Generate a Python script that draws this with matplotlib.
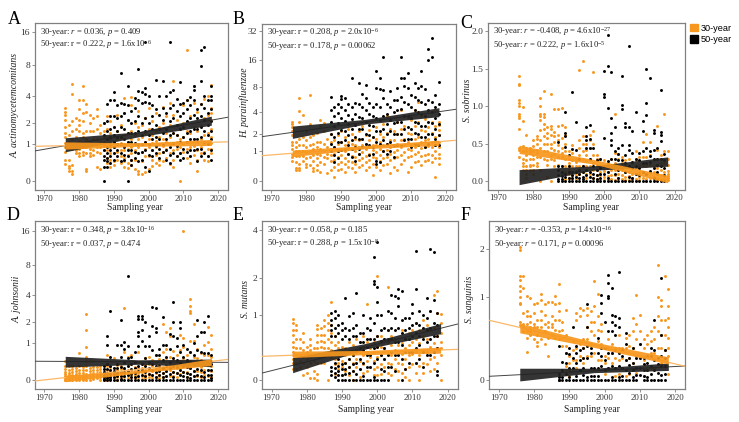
import numpy as np
import matplotlib
matplotlib.use("Agg")
import matplotlib.pyplot as plt
from matplotlib.patches import Patch

ORANGE = "#F7971D"
BLACK = "#1c1c1c"
GRAY = "#808080"

plt.rcParams["font.family"] = ["Liberation Serif", "DejaVu Serif"]
plt.rcParams["mathtext.fontset"] = "custom"
plt.rcParams["mathtext.rm"] = "Liberation Serif"
plt.rcParams["mathtext.it"] = "Liberation Serif:italic"

YEARS_30 = list(range(1976, 2019))
YEARS_50 = list(range(1987, 2019))
BAND_X = [1976, 1997, 2018]
LINE_X = [1967.3, 2022.8]

# one list of readings for each sampling year
A_30 = [[3.0,2.7,2.5,2.2,1.8,1.5,1.3,1.05,.9,.75,.5,.38],[1.9,1.4,1.1,.85,.5,.33,.28,.2],[5.3,4.2,2.1,1.6,1.2,.85,.35,.2,.15],
        [2.3,1.7,1.3,1.0,.8,.7],[3.6,2.9,2.2,1.9,1.6,1.1,.85,.7,.6],[5.0,3.6,2.6,2.1,1.5,1.3,.9,.75,.65],[3.3,2.7,1.6,1.2,.9,.7,.25,.2],
        [2.5,2.0,1.6,1.1,.85,.7,.6],[2.3,1.6,1.2,1.0,.8,.65],[2.9,2.4,1.7,1.2,.9,.75,.3],[1.9,1.5,1.1,.9,.7,.25],[2.0,1.6,1.3,1.1,.95,.8],
        [2.4,1.7,1.3,1.0,.8,.55,.4],[2.1,1.5,1.2,.9,.7,.5,.3],[1.8,1.4,1.1,.9,.7,.45,.35],[2.5,1.6,1.2,1.0,.75,.5],[1.9,1.3,1.05,.8,.6,.4],
        [3.8,2.6,1.4,1.0,.8,.55,.45,.3],[2.2,1.5,1.1,.85,.65,.4,.28],[3.9,3.2,1.6,1.2,.9,.7,.5,.35],[2.0,1.4,1.0,.8,.5,.25],[2.8,1.8,1.2,.9,.7,.2,.15],
        [1.9,1.3,1.0,.75,.45,.15],[2.3,1.5,1.1,.85,.6,.18],[3.0,1.7,1.2,.9,.6,.25],[2.1,1.4,1.05,.8,.5,.32],[2.6,1.6,1.15,.9,.65,.4],
        [1.8,1.3,1.0,.7,.5,.35],[3.1,2.0,1.2,.95,.75,.45],[2.4,1.5,1.1,.85,.55],[3.4,1.9,1.3,1.0,.7,.38],[5.6,2.5,1.5,1.05,.8,.5,.3],
        [2.2,1.4,1.1,.85,.6],[1.7,1.2,.9,.7,.0],[3.2,2.0,1.3,1.0,.75],[11.0,3.6,1.6,1.1,.85,.55],[2.4,1.5,1.1,.9,.6,.4],[5.0,3.4,1.8,1.2,.95,.65],
        [2.7,1.6,1.1,.8,.22,.5],[3.3,1.9,1.2,.9,.7],[3.7,2.3,1.4,1.0,.75,.5],[4.0,2.5,1.5,1.1,.85,.6,.45],[5.2,3.0,2.6,2.2,1.7,1.3,1.05,.85,.7]]
A_50 = [[2.0,1.4,1.0,.8,.6,.5,.3,.0],[3.3,2.1,1.6,1.2,.9,.7,.55,.45,.3],[3.6,2.4,1.7,1.3,1.0,.8,.6,.4],[4.4,3.6,2.4,1.8,1.4,1.1,.9,.7,.5],
        [3.2,2.3,1.6,1.3,1.0,.8,.6],[6.8,3.4,2.4,1.8,1.3,1.0,.7,.45],[3.3,2.6,1.7,1.2,.9,.65,.5],[5.0,3.2,2.2,1.5,1.1,.8,.6,.0],[2.8,2.0,1.5,1.1,.8,.5,.35],
        [3.8,3.0,2.1,1.5,1.05,.75,.55],[7.3,4.5,3.6,2.4,1.6,1.0,.7,.45],[4.4,3.4,2.0,1.4,1.0,.75,.5],[13.0,4.8,4.2,3.5,2.3,1.6,1.1,.8,.3],[4.0,3.4,2.0,1.4,1.0,.65,.2],
        [3.2,2.4,1.7,1.2,.8,.6],[5.8,2.9,1.9,1.3,.95,.7],[4.0,2.5,1.7,1.2,.85,.55],[5.7,3.0,2.2,1.5,1.0,.75],[4.0,2.6,1.7,1.2,.8,.5],[13.0,4.4,3.0,2.1,1.4,.9,.65,.4],
        [4.6,3.2,2.3,1.5,1.05,.7],[3.7,2.8,1.9,1.4,.95,.6],[5.5,3.3,2.4,1.7,1.1,.7,.5],[3.4,2.6,1.8,1.3,.85,.55],[3.6,2.9,2.1,1.5,1.1,.75],[3.9,3.2,2.3,1.6,1.2,.8,.6],
        [5.0,4.6,3.6,2.5,1.7,1.2,.8],[2.9,2.3,1.7,1.2,.85,.45],[11.0,7.9,5.7,3.3,2.4,1.8,1.3,.85,.6],[11.7,4.0,3.0,2.2,1.6,1.1,.7],[3.6,2.6,1.9,1.4,1.0,.6],
        [5.0,4.0,3.6,2.9,2.1,1.6,1.2,.8,.5],[]]

B_30 = [[3.0,2.8,2.5,2.2,1.9,1.5,1.3,1.1,.9,.75,.6],[1.5,1.2,1.0,.8,.55,.35,.3],[6.0,4.1,3.0,1.7,1.3,1.0,.8,.5,.35,.3],[3.7,1.8,1.3,1.0,.8,.6],
        [2.2,1.6,1.2,.95,.7,.5,.4],[6.5,2.8,1.8,1.3,1.0,.75,.45],[1.9,1.4,1.1,.85,.6,.35,.28],[2.1,1.5,1.2,.9,.7,.45,.3],[3.2,2.6,1.5,1.1,.85,.55,.25],
        [2.9,2.2,1.4,1.0,.75,.5],[1.7,1.2,.9,.7,.2],[2.0,1.5,1.1,.85,.6,.3],[2.6,1.6,1.2,.9,.65,.4,.1],[1.9,1.4,1.0,.75,.5,.3],[2.2,1.5,1.1,.85,.55,.32],
        [1.8,1.3,1.0,.7,.5,.25],[2.4,1.5,1.15,.9,.6,.4],[2.0,1.4,1.1,.8,.55,.35],[1.7,1.3,1.0,.75,.5,.25],[2.2,1.6,1.2,.9,.65,.4],[2.6,1.7,1.3,.95,.7,.45],
        [1.9,1.4,1.1,.8,.55,.3],[2.3,1.6,1.2,.9,.65,.4],[1.8,1.3,1.05,.75,.5,.15],[2.5,1.7,1.3,.95,.7,.4],[2.0,1.5,1.1,.85,.6,.3],[2.8,1.8,1.3,1.0,.7,.45],
        [3.6,2.1,1.4,1.05,.75,.5],[2.4,1.6,1.2,.9,.65,.2],[2.2,1.6,1.25,.95,.7,.4],[3.0,2.0,1.4,1.05,.75,.3],[4.3,2.4,1.6,1.2,.85,.5],[2.6,1.7,1.3,.95,.65],
        [3.4,2.1,1.5,1.1,.75,.25],[3.2,2.0,1.4,1.05,.8,.4],[4.2,2.6,1.7,1.2,.9,.55],[5.4,3.0,1.8,1.3,.95,.6],[3.6,2.3,1.5,1.15,.8,.45],[3.3,2.2,1.6,1.2,.85,.6],
        [4.0,2.5,1.7,1.25,.9,.65],[3.0,2.1,1.5,1.2,.85,.55],[4.2,2.6,1.8,1.3,1.0,.7,.1],[3.0,2.7,2.3,1.9,1.5,1.2,.9,.7,.5]]
B_50 = [[6.2,4.2,3.0,2.0,1.4,1.0],[4.7,3.6,2.6,1.8,1.2,.85,.55],[5.0,3.9,2.9,2.1,1.5,1.0,.7],[6.3,5.8,4.6,3.4,2.3,1.5,1.05],[6.0,4.2,3.1,2.2,1.6,1.1],
        [5.0,3.7,2.8,1.9,1.3,.9],[10.0,4.6,3.3,2.4,1.6,1.1,.75],[5.2,3.8,2.7,1.8,1.2,.6],[8.8,5.0,3.5,2.4,1.7,1.1,.9],[6.6,4.6,3.4,2.4,1.7,1.2],[8.4,6.0,4.2,3.0,2.0,1.4],
        [5.2,3.8,2.7,1.9,1.3,.85],[4.6,3.6,2.6,1.8,1.2,.9],[12.0,7.8,5.0,3.4,2.2,1.5,.6,.5],[10.0,7.6,4.6,3.2,2.2,1.4,.55],[17.0,7.4,6.0,3.6,2.4,1.6,1.0],[5.0,3.8,2.8,2.0,1.4,.9],
        [7.2,4.6,3.2,2.2,1.5,1.0],[5.6,4.0,2.9,2.0,1.3,.75],[7.8,5.6,4.2,3.0,2.0,1.3],[17.0,10.0,6.2,4.4,3.0,2.0,1.3],[10.0,8.2,5.4,3.6,2.4,1.6],[11.5,7.8,5.0,3.6,2.5,1.7],
        [6.4,4.6,3.4,2.4,1.7,1.2],[8.8,6.2,4.2,3.0,2.1,1.4],[7.8,5.6,4.0,2.9,2.0,1.3],[12.0,8.2,5.4,3.8,2.6,1.8],[7.6,5.0,3.6,2.6,1.8,1.2],[21.0,16.0,5.6,4.2,3.0,2.0,1.4],
        [27.0,17.0,5.4,4.0,2.9,2.0],[6.4,4.6,3.4,2.4,1.7,1.3],[9.2,5.0,3.8,2.8,1.9,1.3],[]]

C_30 = [[1.41,1.3,1.28,1.08,1.05,1.0,.9,.87,.84,.7,.44,.42,.32],[.99,.8,.47,.4,.3,.25,.2,.15],[.62,.45,.4,.35,.28,.2,.15,.1,.04],[.45,.42,.38,.3,.22,.2,.15],
        [.55,.47,.4,.35,.3,.22,.15,.1],[.6,.56,.5,.42,.38,.32,.25,.2],[1.11,1.0,.9,.87,.82,.68,.55,.45,.32,.15,.0],[1.2,.9,.86,.76,.7,.6,.5,.4,.3],[.72,.65,.58,.5,.4,.28,.22,.06],
        [1.17,.74,.7,.62,.5,.45,.35,.3,.0],[.97,.66,.6,.52,.42,.36,.28,.2],[.97,.74,.62,.55,.48,.4,.32,.22],[.98,.75,.58,.45,.38,.32,.2,.1],[.72,.62,.5,.4,.3,.2,.12,.03],
        [.4,.3,.25,.2,.15,.1,.04],[.48,.38,.28,.2,.12,.07,.03],[.3,.26,.2,.14,.08,.03],[1.48,.55,.45,.35,.3,.2,.1],[1.6,.6,.5,.4,.3,.2,.12],[.5,.42,.35,.27,.2,.1,.04],[.62,.55,.45,.3,.2,.1],
        [1.46,.67,.5,.35,.25,.15,.05],[.35,.3,.22,.15,.08,.03],[.3,.2,.13,.08,.03],[.28,.2,.14,.06,.02],[.24,.18,.12,.07,.02],[.3,.22,.15,.08,.03],[.9,.38,.25,.15,.08,.02],[.37,.3,.18,.1,.04],[.33,.25,.15,.08,.03],
        [.28,.2,.12,.06,.02],[.3,.2,.13,.07,.02],[.25,.18,.1,.05,.02],[.4,.28,.18,.1,.03],[.32,.22,.12,.06,.02],[.53,.33,.22,.12,.05],[.63,.33,.2,.1,.03,.0],[.52,.35,.22,.12,.05],[.28,.2,.12,.06,.02],
        [.74,.42,.3,.18,.1,.03],[.35,.25,.15,.08,.03],[.9,.4,.25,.12,.05],[.4,.3,.22,.14,.1,.07,.04,.02]]
C_50 = [[.52,.21,.15,.08,.03,.0],[.2,.13,.07,.03,.0],[.92,.64,.6,.46,.1,.06,.0],[.35,.2,.12,.05,.0],[1.19,.43,.13,.08,.04,.0],[.79,.42,.12,.06,.0],[.3,.15,.1,.05,.0],[.2,.12,.06,.03,.0],
        [.72,.6,.55,.45,.15,.08,.0],[.75,.57,.45,.3,.12,.06,.0],[.45,.2,.1,.05,.0],[.28,.15,.08,.03,.0],[.3,.18,.1,.05,.0],[1.47,1.17,1.13,.58,.2,.1,.0],[1.95,1.53,.98,.27,.12,.05,.0],[1.45,.85,.65,.55,.48,.3,.0],
        [.72,.4,.3,.2,.1,.0],[.45,.36,.28,.15,.05,.0],[1.41,1.02,.96,.48,.28,.18,.0],[.78,.72,.35,.25,.12,.0],[1.8,.72,.49,.42,.2,.06,.0],[.67,.38,.26,.18,.05,.0],[.93,.3,.2,.1,.0],[.38,.28,.18,.08,.0],
        [.8,.67,.4,.24,.12,.0],[1.5,1.04,.88,.44,.25,.1,.0],[1.37,.4,.34,.26,.14,.0],[.69,.64,.42,.3,.18,.05,.0],[.45,.3,.22,.12,.0],[1.22,.66,.62,.54,.3,.2,.0],[.36,.28,.18,.08,.0],[]]

D_30 = [[.42,.3,.22,.16,.12,.08,.04,.0,.0],[.3,.2,.14,.09,.04,.0],[.3,.22,.15,.1,.05,.0],[.25,.18,.12,.07,.02,.0],[.65,.3,.2,.13,.08,.03,.0],[.28,.2,.14,.08,.03,.0],[2.5,1.6,.85,.55,.42,.3,.2,.12,.06,.0],
        [.42,.26,.18,.12,.06,.0],[.42,.28,.2,.14,.08,.02],[.28,.2,.14,.08,.03],[.3,.22,.16,.1,.05,.0],[.22,.15,.1,.05,.0],[.6,.3,.2,.12,.06,.0],[.28,.2,.14,.08,.02],[.5,.24,.16,.1,.04],[.32,.2,.12,.06,.0],
        [.3,.22,.14,.08,.02],[2.9,.7,.38,.22,.12,.05],[.55,.32,.2,.1,.04],[.6,.34,.2,.12,.05],[.4,.28,.18,.1,.03],[.7,.4,.24,.14,.06],[.35,.25,.16,.08,.02],[.5,.32,.2,.1,.04],[.55,.35,.22,.12,.05],
        [.46,.3,.18,.1,.03],[.6,.4,.26,.14,.05],[.48,.32,.2,.1,.04],[1.9,.7,.42,.26,.14,.06],[1.5,.8,.5,.32,.18,.08],[1.7,1.3,.55,.34,.2,.08],[.72,.45,.28,.16,.07],[.6,.4,.26,.14,.05],[1.35,.75,.42,.25,.12],
        [16.0,1.2,.85,.5,.3,.16],[.6,.42,.28,.15,.06],[3.7,3.1,2.7,2.6,1.1,.7,.42,.24,.12],[1.9,1.1,.55,.34,.18,.08],[.8,.5,.32,.18,.08],[.65,.45,.28,.15,.05],[.95,.6,.38,.2,.1],[1.75,1.05,.6,.38,.2,.08],[1.35,.8,.55,.42,.3,.18,.06]]
D_50 = [[.3,.22,.15,.1,.05,.02,.0],[1.3,.95,.35,.22,.14,.08,.03,.0],[2.7,.55,.3,.2,.12,.06,.02,.0],[.25,.18,.12,.06,.0],[.95,.35,.24,.14,.07,.0],[2.1,.95,.55,.28,.16,.08,.02,.0],[1.05,.8,.4,.26,.15,.08,.0],
        [6.2,.9,.5,.3,.18,.1,.0],[.55,.35,.22,.12,.05,.0],[.7,.4,.25,.14,.06,.0],[2.4,2.2,1.5,1.3,.9,.3,.18,.08,.0],[2.4,2.2,1.6,1.1,.35,.2,.1,.0],[2.0,.9,.5,.3,.16,.08,.0],[1.3,.9,.4,.24,.12,.0],
        [3.0,1.8,.75,.35,.2,.1,.0],[2.9,1.7,1.5,.6,.3,.16,.06,.0],[.8,.6,.3,.18,.1,.0],[2.3,.95,.45,.26,.14,.05,.0],[.95,.55,.3,.18,.08,.0],[1.4,.8,.4,.24,.12,.0],[3.4,2.0,1.3,.5,.3,.16,.06,.0],[1.2,.9,.45,.28,.14,.0],
        [2.0,1.7,.7,.38,.2,.1,.0],[.95,.55,.3,.16,.08,.0],[.8,.45,.28,.14,.05,.0],[.7,.4,.24,.12,.04,.0],[1.0,.6,.32,.18,.08,.0],[2.1,1.3,.75,.4,.22,.1,.0],[1.5,.7,.36,.2,.08,.0],[2.0,1.5,.65,.34,.16,.05,.0],[2.4,.65,.38,.2,.1,.0],[.6,.36,.2,.1,.03,.0]]

E_30 = [[.92,.85,.7,.62,.5,.42,.35,.3,.25,.2,.12],[.8,.7,.55,.4,.3,.2,.12],[.55,.4,.3,.22,.15],[.65,.5,.38,.28,.2,.05],[.42,.35,.25,.15,.08],[.55,.45,.38,.28,.2,.02],[.4,.3,.22,.1,.02],
        [.8,.72,.62,.5,.4,.3,.2,.06,.0],[.75,.62,.52,.42,.3,.2],[.9,.78,.62,.5,.4,.3,.2],[1.0,.85,.7,.55,.4,.3,.0],[1.3,.8,.65,.5,.38,.28],[.6,.45,.35,.25,.18,.06],[.5,.4,.3,.2,.12],[.42,.3,.22,.15,.05],[.4,.3,.2,.1],
        [.5,.35,.25,.15,.05],[.45,.3,.2,.1,.0],[.55,.38,.25,.15],[.5,.35,.22,.12,.03],[.6,.42,.3,.18,.08],[1.25,.5,.35,.22,.1],[.55,.4,.28,.15],[.5,.35,.22,.12,.05],[2.05,.6,.42,.28,.15,.05],[.6,.42,.3,.18,.06],[.55,.4,.25,.15],
        [1.7,.7,.5,.32,.2,.08],[.6,.45,.3,.18,.05],[.55,.38,.25,.12],[.45,.32,.2,.1,.0],[.7,.48,.32,.18,.08],[.55,.4,.25,.12,.03],[.65,.45,.3,.15,.0],[.7,.5,.32,.18],[.85,.55,.35,.2,.08],[.7,.48,.3,.16,.0],[.9,.6,.38,.2,.08],
        [.8,.55,.35,.18],[1.1,.7,.42,.25,.1],[1.5,.75,.48,.28,.12],[1.6,1.05,.6,.4,.2],[1.02,.85,.65,.5,.4,.3,.0]]
E_50 = [[1.05,.9,.8,.7,.6,.15,.1,.05],[1.1,.95,.75,.6,.2,.14,.08,.03],[1.0,.8,.65,.25,.16,.1,.05,.0],[.85,.7,.55,.18,.12,.05,.0],[1.42,.75,.6,.2,.12,.06,.0],[.98,.7,.55,.25,.15,.08,.0],[1.05,.75,.6,.3,.18,.1,.0],
        [1.55,.8,.6,.35,.2,.06,.0],[.65,.5,.4,.25,.12,.0],[1.0,.65,.5,.38,.2,.04,.0],[.75,.55,.42,.3,.15,.0],[.95,.7,.55,.3,.15,.0],[2.75,1.9,1.8,.85,.55,.4,.2,.03,.0],[3.4,1.7,1.3,1.0,.6,.42,.25,.0],[1.0,.7,.52,.3,.12,.0],
        [.75,.55,.4,.25,.1,.0],[1.1,.7,.55,.3,.15,.0],[1.5,1.05,.75,.55,.35,.15],[1.45,.95,.7,.5,.3,.1],[1.65,1.4,1.2,.75,.5,.3],[1.6,.9,.65,.45,.25,.0],[.95,.7,.55,.35,.12],[.95,.75,.55,.35,.2],[1.25,1.05,.8,.6,.35],
        [3.0,1.65,.85,.65,.4,.2],[1.1,.8,.6,.45,.25],[1.0,.75,.55,.35,.15],[1.4,.95,.7,.5,.3],[3.1,1.1,.75,.55,.3],[2.95,1.35,.85,.6,.35],[1.05,.8,.6,.4,.1,.05],[]]

F_30 = [[2.05,1.97,1.38,1.3,1.2,1.1,1.0,.9,.88,.62,.58],[1.38,1.15,.75,.6,.55,.5],[1.02,.78,.7,.6,.5,.42,.26],[.98,.7,.62,.55,.5,.45],[.88,.75,.6,.55,.4],[.9,.65,.55,.45,.37,.33],[1.05,.95,.78,.65,.55,.4],
        [.88,.72,.6,.5,.35],[.92,.62,.55,.42,.22],[.92,.7,.6,.55,.45],[1.02,.88,.65,.52,.42],[1.22,.9,.78,.65,.5,.4],[.62,.52,.42,.32],[.8,.45,.32,.25,.12,.08],[.22,.15,.08,.03],[.38,.28,.18],[.75,.65,.3,.18,.1],[.82,.7,.35,.22],
        [.8,.4,.3,.2,.15],[.82,.72,.55,.4,.22],[.78,.62,.5,.35,.22],[1.28,.85,.62,.45,.25],[1.05,.7,.52,.38,.18],[.6,.5,.35,.18],[.3,.22,.15,.05],[.4,.3,.2,.1],[.35,.25,.15],[.3,.2,.1,.03],[.45,.3,.18,.05],[.3,.2,.1],
        [.42,.3,.18,.03],[.45,.32,.2,.05],[.68,.5,.3,.15],[1.03,.6,.4,.22,.06],[.72,.5,.35,.2],[.4,.3,.18,.03],[.45,.35,.22,.08],[.5,.38,.25,.1],[.55,.4,.25,.1],[1.62,1.0,.7,.5,.3],[.95,.85,.65,.45,.3,.15],[1.38,.65,.45,.28,.12],[1.13,.85,.68,.55,.42,.3,.22,.05]]
F_50 = [[.33,.05,.02,.0,.0],[.16,.08,.02,.0],[.15,.25,.05,.0],[.24,.3,.1,.02,.0],[.56,.2,.1,.0],[.33,.25,.15,.03,.0],[.28,.18,.08,.0],[.3,.2,.1,.04,.0],[.88,.55,.33,.2,.02,.0],[.3,.25,.1,.03,.0],[.1,.03,.0],[.42,.25,.1,.03,.0],
        [1.03,.9,.75,.3,.22,.12,.0],[.62,.3,.18,.08,.0],[1.4,1.25,1.02,.98,.5,.25,.1,.0],[1.15,.72,.62,.5,.25,.12,.02,.0],[.7,.58,.45,.28,.1,.0],[1.47,.68,.55,.25,.12,.02,.0],[.28,.22,.1,.03,.0],[.48,.35,.18,.08,.0],[.2,.13,.06,.0],
        [.3,.15,.08,.02,.0],[.2,.1,.04,.0],[.35,.2,.1,.04],[.2,.14,.08,.03,.0],[.22,.15,.08,.02,.0],[.3,.22,.12,.05,.0],[.65,.28,.18,.08,.0],[.2,.14,.06,.0],[1.35,.45,.22,.12,.04,.0],[.28,.2,.12,.05,.0],[]]

# regression lines, None where the panel shows only the band
A_LINE_30 = [.93, 1.10]
A_LINE_50 = [.77, 2.35]
B_LINE_30 = [.81, 1.59]
B_LINE_50 = [1.82, 4.34]
D_LINE_30 = [-.025, .47]
D_LINE_50 = [.42, .39]
E_LINE_30 = [.286, .386]
E_LINE_50 = [.074, .82]
F_LINE_30 = [.645, .118]
F_LINE_50 = [.028, .121]

# confidence bands at 1976, 1997, 2018
A_LOW_30, A_HIGH_30 = [.83, .93, .96], [1.10, 1.06, 1.20]
A_LOW_50, A_HIGH_50 = [.74, 1.31, 1.88], [1.27, 1.54, 2.42]
B_LOW_30, B_HIGH_30 = [.77, 1.13, 1.30], [1.06, 1.30, 1.60]
B_LOW_50, B_HIGH_50 = [1.71, 2.79, 3.50], [2.61, 3.23, 4.55]
C_LOW_30, C_HIGH_30 = [.37, .23, -.02], [.48, .29, .08]
C_LOW_50, C_HIGH_50 = [-.045, .147, .20], [.155, .205, .325]
D_LOW_30, D_HIGH_30 = [-.04, .135, .31], [.09, .195, .49]
D_LOW_50, D_HIGH_50 = [.27, .34, .28], [.56, .46, .48]
E_LOW_30, E_HIGH_30 = [.27, .31, .33], [.36, .37, .42]
E_LOW_50, E_HIGH_50 = [.078, .395, .64], [.27, .48, .83]
F_LOW_30, F_HIGH_30 = [.48, .31, .14], [.60, .37, .21]
F_LOW_50, F_HIGH_50 = [-.011, .06, .08], [.10, .10, .15]

W, H = 739, 422


def to_log(y):
    return np.log2(1 + np.maximum(y, -0.99))


def from_log(y):
    return 2 ** y - 1


def flat(years, values):
    xs = []
    ys = []
    for yr, vals in zip(years, values):
        for v in vals:
            xs.append(yr)
            ys.append(v)
    return xs, ys


def draw_panel(fig, box, letter, letter_pos, species, ylab_pos, xlab_pos, note1, note2, vals30, vals50,
               line30, line50, band30, band50, ylim, yticks, log_axis=True):
    left, top, right, bottom = box
    ax = fig.add_axes([left / W, 1 - bottom / H, (right - left) / W, (bottom - top) / H])
    if log_axis:
        ax.set_yscale("function", functions=(to_log, from_log))

    x, y = flat(YEARS_30, vals30)
    ax.scatter(x, y, s=4.5, color=ORANGE, linewidths=0, zorder=2)
    x, y = flat(YEARS_50, vals50)
    ax.scatter(x, y, s=4.5, color="black", linewidths=0, zorder=3)

    if line50 is not None:
        ax.plot(LINE_X, line50, color="#444444", lw=0.7, zorder=4)
    if line30 is not None:
        ax.plot(LINE_X, line30, color="#FBB868", lw=0.9, zorder=4)
    ax.fill_between(BAND_X, band50[0], band50[1], color="#222222", alpha=0.92, lw=0, zorder=5)
    ax.fill_between(BAND_X, band30[0], band30[1], color=ORANGE, alpha=0.92, lw=0, zorder=6)

    ax.set_xlim(1967.3, 2022.8)
    ax.set_ylim(*ylim)
    ax.set_xticks([1970, 1980, 1990, 2000, 2010, 2020])
    ax.set_yticks(yticks)
    ax.set_yticklabels([f"{t:.1f}" if not log_axis else str(t) for t in yticks])
    ax.minorticks_off()
    ax.tick_params(axis="both", labelcolor="#333333", labelsize=6.3, length=2.5, width=0.6, pad=1, color=GRAY)
    ax.tick_params(axis="y", labelsize=6.8)
    for sp in ax.spines.values():
        sp.set_color(GRAY)
        sp.set_linewidth(0.9)

    ax.set_xlabel("Sampling year", fontsize=6.9, color="#222222")
    ax.xaxis.set_label_coords(xlab_pos[0] / W, 1 - xlab_pos[1] / H, transform=fig.transFigure)
    ax.xaxis.label.set_va("center")
    ax.set_ylabel(species, fontsize=7.0, style="italic", color="#222222")
    ax.yaxis.set_label_coords(ylab_pos[0] / W, 1 - ylab_pos[1] / H, transform=fig.transFigure)
    ax.yaxis.label.set_va("center")
    ax.text(0.026, 0.985, note1 + "\n" + note2, transform=ax.transAxes, fontsize=6.25, color="#222222",
            va="top", linespacing=1.1, zorder=8)
    fig.text(letter_pos[0] / W, 1 - letter_pos[1] / H, letter, fontsize=13, color="black", va="center")
    return ax


fig = plt.figure(figsize=(7.39, 4.22), dpi=100)

draw_panel(fig, (35, 23, 228, 190), "A", (8, 19), "A. actinomycetemcomitans", (15, 105), (135, 208),
           r"30-year: $\mathit{r}$ = 0.036, $\mathit{p}$ = 0.409", r"50-year: r = 0.222, $\mathit{p}$ = 1.6x10$^{-6}$",
           A_30, A_50, A_LINE_30, A_LINE_50, (A_LOW_30, A_HIGH_30), (A_LOW_50, A_HIGH_50),
           (from_log(-0.245), from_log(4.32)), [0, 1, 2, 4, 8, 16])
draw_panel(fig, (262, 23.7, 455.7, 190), "B", (233, 20), "H. parainfluenzae", (244, 103), (364, 208),
           r"30-year: r = 0.208, $\mathit{p}$ = 2.0x10$^{-6}$", r"50-year: r = 0.178, $\mathit{p}$ = 0.00062",
           B_30, B_50, B_LINE_30, B_LINE_50, (B_LOW_30, B_HIGH_30), (B_LOW_50, B_HIGH_50),
           (from_log(-0.30), from_log(5.30)), [0, 1, 2, 4, 8, 16, 32])
draw_panel(fig, (488.3, 23, 684.7, 189.5), "C", (460, 23), "S. sobrinus", (467, 100), (591, 208),
           r"30-year: $\mathit{r}$ = -0.408, $\mathit{p}$ = 4.6x10$^{-27}$", r"50-year: $\mathit{r}$ = 0.222, $\mathit{p}$ = 1.6x10$^{-5}$",
           C_30, C_50, None, None, (C_LOW_30, C_HIGH_30), (C_LOW_50, C_HIGH_50),
           (-0.11, 2.11), [0.0, 0.5, 1.0, 1.5, 2.0], log_axis=False)
draw_panel(fig, (35, 221.3, 228, 388.7), "D", (7, 216), "A. johnsonii", (17, 299), (134, 410),
           r"30-year: r = 0.348, $\mathit{p}$ = 3.8x10$^{-16}$", r"50-year: r = 0.037, $\mathit{p}$ = 0.474",
           D_30, D_50, D_LINE_30, D_LINE_50, (D_LOW_30, D_HIGH_30), (D_LOW_50, D_HIGH_50),
           (from_log(-0.25), from_log(4.36)), [0, 1, 2, 4, 8, 16])
draw_panel(fig, (262, 221.3, 457.5, 388.7), "E", (233, 216), "S. mutans", (245, 299), (366, 410),
           r"30-year: r = 0.058, $\mathit{p}$ = 0.185", r"50-year: r = 0.288, $\mathit{p}$ = 1.5x10$^{-8}$",
           E_30, E_50, E_LINE_30, E_LINE_50, (E_LOW_30, E_HIGH_30), (E_LOW_50, E_HIGH_50),
           (from_log(-0.14), from_log(2.46)), [0, 1, 2, 4])
draw_panel(fig, (489, 221.3, 685.3, 388.7), "F", (461, 216), "S. sanguinis", (470, 299), (592, 410),
           r"30-year: $\mathit{r}$ = -0.353, $\mathit{p}$ = 1.4x10$^{-16}$", r"50-year: $\mathit{r}$ = 0.171, $\mathit{p}$ = 0.00096",
           F_30, F_50, F_LINE_30, F_LINE_50, (F_LOW_30, F_HIGH_30), (F_LOW_50, F_HIGH_50),
           (from_log(-0.11), from_log(1.915)), [0, 1, 2])

handles = [Patch(color=ORANGE, label="30-year"), Patch(color="black", label="50-year")]
fig.legend(handles=handles, loc="upper left", bbox_to_anchor=(690 / W, 1 - 24 / H), frameon=False,
           prop={"family": "Liberation Sans", "size": 6.6}, handlelength=0.85, handleheight=0.85,
           handletextpad=0.35, labelspacing=0.25, borderpad=0, borderaxespad=0)

fig.savefig("out.png", dpi=100)
